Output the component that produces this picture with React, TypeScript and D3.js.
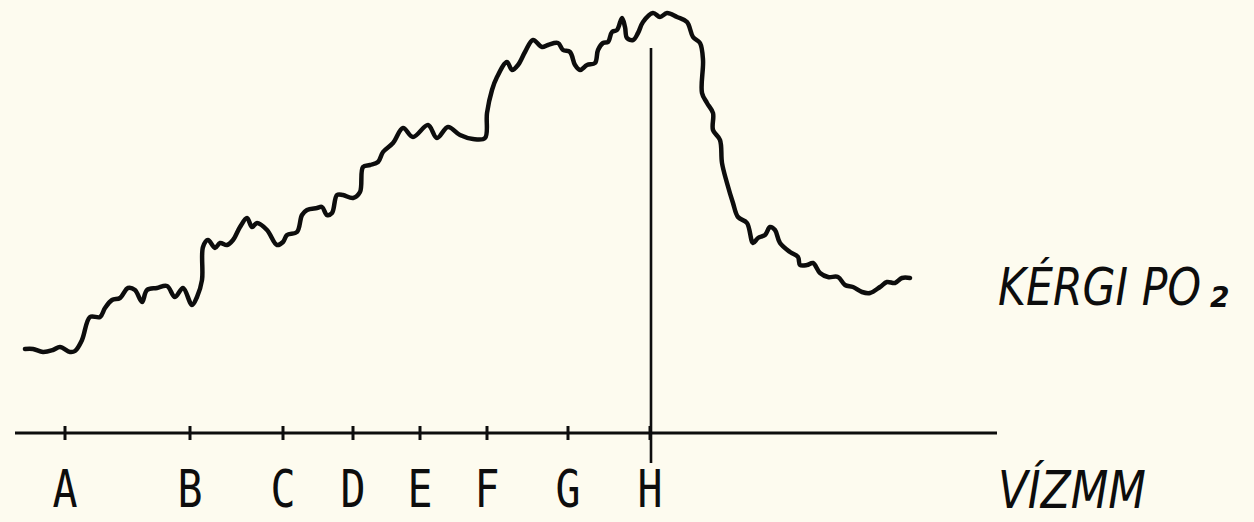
import React, { useEffect, useRef } from 'react';
import * as d3 from 'd3';

// Cortical PO2 trace, x in arbitrary mm units along the axis, y in arbitrary PO2 units
const traceX = [
  1.0, 1.8, 2.8, 3.8, 4.5, 5.5, 6.0, 6.7, 7.5, 8.5, 9.0, 9.7, 10.5, 11.3, 12.0, 12.7, 13.2, 14.2,
  15.2, 16.0, 16.8, 17.7, 18.2, 18.7, 18.8, 19.3, 20.0, 20.5, 21.2, 21.8, 22.5, 23.2, 23.7, 24.2,
  25.2, 26.2, 26.8, 27.2, 28.2, 28.7, 29.2, 30.2, 30.7, 31.2, 31.7, 32.2, 32.8, 33.8, 34.5, 34.8,
  35.5, 36.3, 36.8, 37.8, 38.8, 39.8, 41.3, 42.2, 43.3, 44.5, 45.8, 47.0, 47.2, 47.7, 48.2, 49.2,
  49.7, 50.3, 51.0, 51.8, 52.7, 53.3, 54.3, 54.8, 55.5, 56.0, 56.5, 57.2, 58.0, 58.3, 58.8, 59.3,
  59.7, 60.2, 60.7, 61.0, 61.2, 61.8, 62.3, 62.8, 63.8, 64.5, 65.2, 66.2, 67.2, 67.8, 68.5, 68.8,
  68.7, 69.2, 69.8, 69.8, 70.5, 70.7, 71.2, 71.8, 72.3, 73.2, 73.8, 74.3, 75.0, 75.5, 76.0, 76.5,
  77.5, 78.3, 78.5, 79.2, 79.8, 80.5, 81.3, 82.3, 83.0, 83.8, 84.7, 85.5, 86.5, 87.2, 88.0, 88.7,
  89.5,
];
const traceY = [
  8.4, 8.4, 8.1, 8.3, 8.6, 8.1, 8.2, 9.3, 11.6, 11.6, 12.5, 13.3, 13.5, 14.5, 14.3, 13.1, 14.3, 14.5,
  14.7, 13.6, 14.5, 12.8, 13.6, 15.3, 18.6, 19.3, 18.5, 19.0, 18.8, 19.3, 20.6, 21.5, 20.6, 21.0,
  20.3, 18.8, 19.1, 19.8, 20.1, 21.8, 22.3, 22.5, 22.6, 21.8, 22.0, 23.8, 23.8, 23.5, 24.1, 26.6,
  26.8, 27.1, 28.1, 29.0, 30.5, 29.6, 30.8, 29.5, 30.6, 29.8, 29.4, 29.5, 32.0, 34.3, 35.6, 37.1,
  36.3, 36.8, 38.1, 39.3, 38.6, 38.8, 39.0, 38.3, 38.1, 36.8, 36.3, 36.8, 37.0, 38.3, 39.0, 39.1,
  40.1, 40.3, 41.5, 40.6, 39.5, 39.3, 40.0, 41.1, 42.0, 41.6, 42.0, 41.6, 41.1, 39.6, 39.0, 37.3,
  34.0, 33.0, 32.0, 30.3, 29.3, 27.0, 25.0, 23.0, 21.6, 21.0, 19.0, 19.5, 19.8, 20.6, 20.3, 19.0,
  18.1, 17.6, 16.8, 16.8, 17.0, 16.0, 15.6, 15.6, 14.8, 14.6, 14.1, 14.0, 14.6, 15.1, 15.0, 15.5,
  15.5,
];

const tickLabels = ['A', 'B', 'C', 'D', 'E', 'F', 'G', 'H'];
const tickValues = [5.0, 17.5, 26.8, 33.8, 40.5, 47.2, 55.3, 63.5];
const markerValue = 63.6; // vertical line at H
const markerTop = 38.5;

function App() {
  const chartRef = useRef<HTMLDivElement>(null);

  useEffect(() => {
    document.body.style.margin = '0';
    const width = 1254;
    const height = 522;
    const bg = '#fdfbef';

    d3.select(chartRef.current).select('svg').remove();

    const svg = d3
      .select(chartRef.current)
      .append('svg')
      .attr('width', width)
      .attr('height', height)
      .style('display', 'block');

    svg.append('rect').attr('width', width).attr('height', height).attr('fill', bg);

    // scales: axis runs from x=15 to x=997, baseline at y=433
    const x = d3.scaleLinear().domain([0, 98.2]).range([15, 997]);
    const y = d3.scaleLinear().domain([0, 43.3]).range([433, 0]);

    const ink = '#0d0d0d';

    // x axis line + ticks
    svg
      .append('line')
      .attr('x1', x(0))
      .attr('x2', x(98.2))
      .attr('y1', y(0))
      .attr('y2', y(0))
      .attr('stroke', ink)
      .attr('stroke-width', 3);

    svg
      .selectAll('.tick-mark')
      .data(tickValues)
      .enter()
      .append('line')
      .attr('class', 'tick-mark')
      .attr('x1', (d) => x(d))
      .attr('x2', (d) => x(d))
      .attr('y1', y(0) - 7)
      .attr('y2', y(0) + 7)
      .attr('stroke', ink)
      .attr('stroke-width', 3);

    // tick letters
    svg
      .selectAll('.tick-label')
      .data(tickLabels)
      .enter()
      .append('text')
      .attr('class', 'tick-label')
      .attr('x', (d, i) => x(tickValues[i]))
      .attr('y', 507)
      .attr('text-anchor', 'middle')
      .attr('font-family', 'DejaVu Sans Mono')
      .attr('font-size', 52)
      .attr('fill', ink)
      .attr('transform', (d, i) => {
        const cx = x(tickValues[i]);
        return `translate(${cx},0) scale(0.8,1) translate(${-cx},0)`;
      })
      .text((d) => d);

    // vertical marker at H
    svg
      .append('line')
      .attr('x1', x(markerValue))
      .attr('x2', x(markerValue))
      .attr('y1', y(markerTop))
      .attr('y2', y(0) + 30)
      .attr('stroke', ink)
      .attr('stroke-width', 2.6);

    // the trace
    const points = traceX.map((d, i) => [d, traceY[i]] as [number, number]);
    const line = d3
      .line<[number, number]>()
      .x((d) => x(d[0]))
      .y((d) => y(d[1]))
      .curve(d3.curveCatmullRom.alpha(0.5));

    svg
      .append('path')
      .datum(points)
      .attr('d', line)
      .attr('fill', 'none')
      .attr('stroke', ink)
      .attr('stroke-width', 4.5)
      .attr('stroke-linejoin', 'round')
      .attr('stroke-linecap', 'round');

    // series label (squeezed horizontally like the hand lettering)
    const squeeze = (x0: number, s: number) => `translate(${x0},0) scale(${s},1) translate(${-x0},0)`;
    svg
      .append('text')
      .attr('x', 998)
      .attr('y', 305)
      .attr('font-family', 'DejaVu Sans')
      .attr('font-style', 'italic')
      .attr('font-size', 52)
      .attr('fill', ink)
      .attr('transform', squeeze(998, 0.82))
      .text('KÉRGI PO');
    svg
      .append('text')
      .attr('x', 1210)
      .attr('y', 307)
      .attr('font-family', 'DejaVu Sans')
      .attr('font-style', 'italic')
      .attr('font-weight', 'bold')
      .attr('font-size', 28)
      .attr('fill', ink)
      .text('2');

    // axis title
    svg
      .append('text')
      .attr('x', 998)
      .attr('y', 508)
      .attr('font-family', 'DejaVu Sans')
      .attr('font-style', 'italic')
      .attr('font-size', 52)
      .attr('fill', ink)
      .attr('transform', squeeze(998, 0.84))
      .text('VÍZMM');
  }, []);

  return <div ref={chartRef}></div>;
}

export default App;
